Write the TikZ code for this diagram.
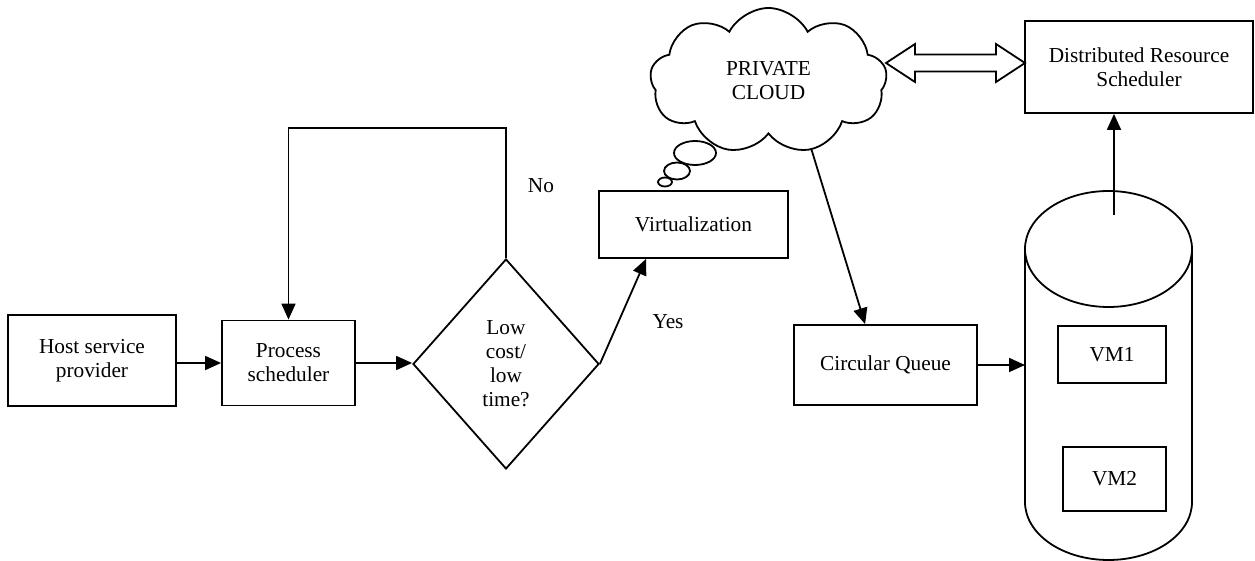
\documentclass[tikz,border=0pt]{standalone}
\usepackage{fontspec}
\setmainfont{Liberation Serif}
\usetikzlibrary{shapes.geometric,shapes.symbols,arrows.meta,calc}
\begin{document}
\begin{tikzpicture}[x=0.5pt,y=-0.5pt,
  every node/.style={font=\fontsize{10.65pt}{12pt}\selectfont, align=center, inner sep=0pt},
  box/.style={draw, line width=0.9pt, rectangle},
  conn/.style={line width=0.9pt, -{Triangle[length=8pt,width=7pt]}},
  plain/.style={line width=0.9pt}]
\useasboundingbox (0,0) rectangle (1255,561);
% boxes
\node[box, minimum width=84pt, minimum height=45.5pt] (host) at (92,360.5) {Host service\\provider};
\node[box, minimum width=66.5pt, minimum height=42.5pt] (proc) at (288.5,363) {Process\\scheduler};
\node[draw, diamond, line width=0.9pt, minimum width=93pt, minimum height=105pt] (dec) at (506,364) {Low\\cost/\\low\\time?};
\node[box, minimum width=94.5pt, minimum height=33.5pt] (virt) at (693.5,224.5) {Virtualization};
\node[box, minimum width=91.5pt, minimum height=40pt] (cq) at (885.5,365) {Circular Queue};
\node[box, minimum width=114pt, minimum height=46pt] (drs) at (1139,67) {Distributed Resource\\Scheduler};
% cloud
\node[cloud, draw, line width=0.9pt, cloud puffs=9, cloud puff arc=125, aspect=1.65,
      minimum width=118.5pt, minimum height=73pt] (cloud) at (768.5,81) {PRIVATE\\CLOUD};
\draw[plain] (695,153) ellipse [x radius=10.5pt, y radius=6pt];
\draw[plain] (677,171) ellipse [x radius=6.5pt, y radius=4.25pt];
\draw[plain] (665,182) ellipse [x radius=3.5pt, y radius=2.25pt];
% cylinder
\draw[plain] (1025,249) -- (1025,502) arc[start angle=180,end angle=360,x radius=41.75pt,y radius=29pt] -- (1192,249);
\draw[plain] (1108.5,249) ellipse [x radius=41.75pt, y radius=29pt];
\coordinate (cylw) at (1025,365);
\coordinate (cyltop) at (1114,215);
\node[box, minimum width=54pt, minimum height=28.5pt] (vm1) at (1112,354.5) {VM1};
\node[box, minimum width=51.5pt, minimum height=32pt] (vm2) at (1114.5,479) {VM2};
% connectors
\draw[conn] (host.east |- proc.west) -- (proc.west);
\draw[conn] (proc.east) -- (proc.east -| dec.west);
\draw[conn] (dec.north) -- ++(0,-130) -| (proc.north);
\node (no) at (541,186) {No};
\draw[conn] (dec.east) -- ($(virt.south west)+(48,0)$);
\node (yes) at (668,322) {Yes};
\draw[conn] (cloud.-58) -- ($(cq.north west)+(72,0)$);
\draw[conn] (cq.east) -- (cylw);
\draw[conn] (cyltop) -- (cyltop |- drs.south);
% double block arrow
\draw[plain, line join=miter] (886,63) -- (915,44) -- (915,54.5) -- (996,54.5) -- (996,44) -- (1025,63)
  -- (996,82) -- (996,71.5) -- (915,71.5) -- (915,82) -- cycle;
\end{tikzpicture}
\end{document}
